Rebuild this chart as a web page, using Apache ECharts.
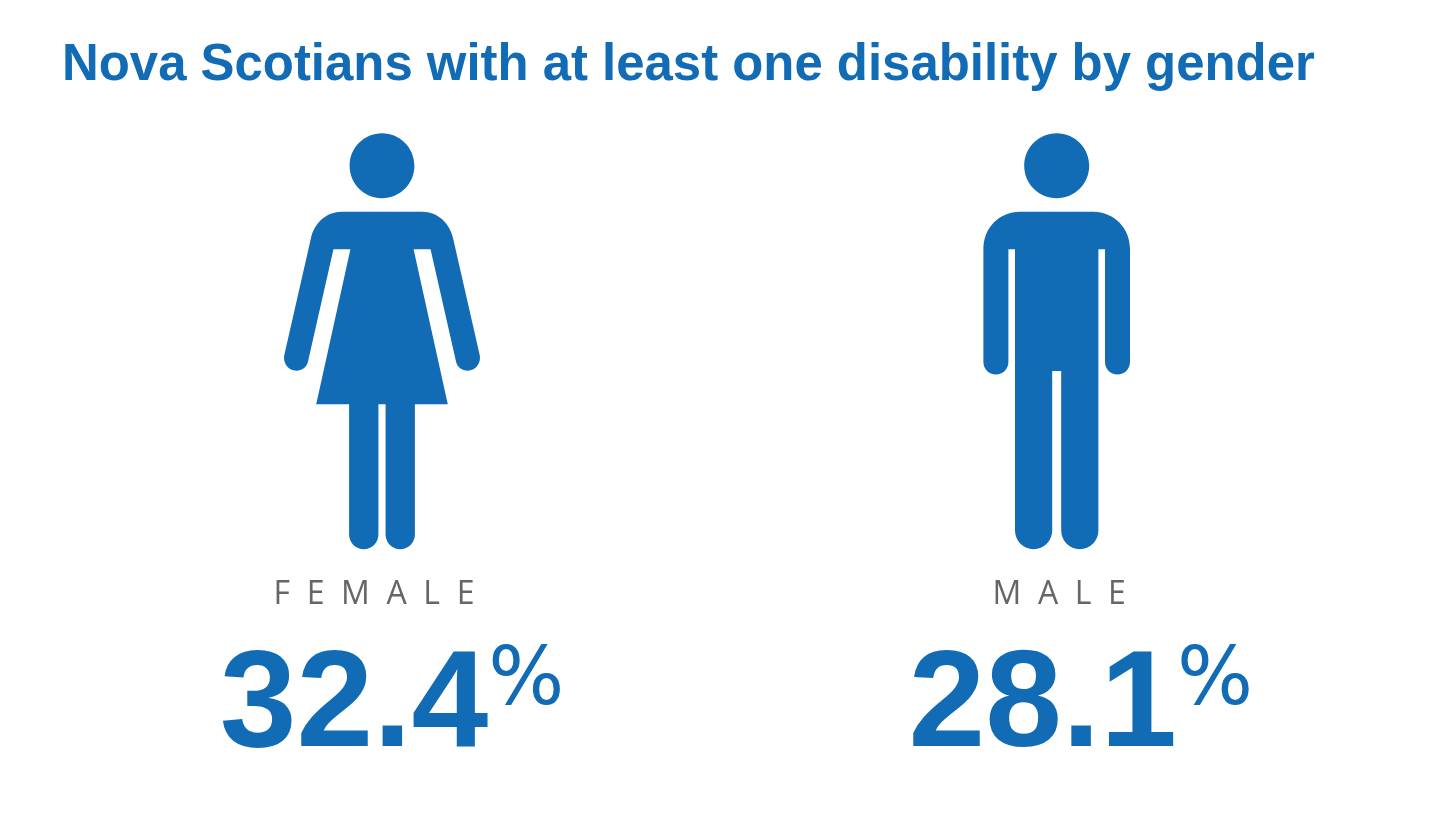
<!DOCTYPE html>
<html style="height: 100%">

<head>
    <meta charset="utf-8">
</head>

<body style="height: 100%; margin: 0; background: #fff">
    <div id="container" style="height: 100%"></div>

    <script src="https://cdn.jsdelivr.net/npm/echarts@6/dist/echarts.min.js"></script>

    <script type="text/javascript">
        var titleText = 'Nova Scotians with at least one disability by gender';
        var genders = ['FEMALE', 'MALE'];
        var disabilityRates = [32.4, 28.1];

        var blue = '#116bb5';

        // 人形图标
        var femaleIcon = 'path://M349.5 165.8C349.5 147.85 364.05 133.3 382 133.3C399.95 133.3 414.5 147.85 414.5 165.8C414.5 183.75 399.95 198.3 382 198.3C364.05 198.3 349.5 183.75 349.5 165.8Z' +
            'M341.7 211.7L422.3 211.7C438 211.7 450 223 453.3 238.3L480 355C481.5 361.65 477.5 368.8 470.9 370.3C464.3 371.8 457.8 368.35 456.3 361.7' +
            'L430.7 249.3L413.7 249.3L448 404.3L415 404.3L415 534.6C415 542.8 408.4 549.3 400.3 549.3C392.2 549.3 385.6 542.8 385.6 534.6L385.6 404.3' +
            'L378.4 404.3L378.4 534.6C378.4 542.8 371.8 549.3 363.7 549.3C355.6 549.3 349 542.8 349 534.6L349 404.3L316 404.3L350.3 249.3L333.3 249.3' +
            'L307.7 361.7C306.2 368.35 299.7 371.8 293.1 370.3C286.5 368.8 282.5 361.65 284 355L310.7 238.3C314 223 326 211.7 341.7 211.7Z';
        var maleIcon = 'path://M1024.2 165.8C1024.2 147.85 1038.75 133.3 1056.7 133.3C1074.65 133.3 1089.2 147.85 1089.2 165.8C1089.2 183.75 1074.65 198.3 1056.7 198.3C1038.75 198.3 1024.2 183.75 1024.2 165.8Z' +
            'M1020 211.7L1093.4 211.7C1114 211.7 1130 228 1130 249L1130 362C1130 369 1124.4 374.5 1117.5 374.5C1110.6 374.5 1105 369 1105 362' +
            'L1105 249.3L1098.4 249.3L1098.4 530.6C1098.4 540.9 1090 549.3 1079.8 549.3C1069.6 549.3 1061.2 540.9 1061.2 530.6L1061.2 371L1052.2 371' +
            'L1052.2 530.6C1052.2 540.9 1043.8 549.3 1033.6 549.3C1023.4 549.3 1015 540.9 1015 530.6L1015 249.3L1008.4 249.3L1008.4 362C1008.4 369 1002.8 374.5 995.9 374.5C989 374.5 983.4 369 983.4 362' +
            'L983.4 249C983.4 228 999 211.7 1020 211.7Z';
        var icons = [femaleIcon, maleIcon];
        var iconSizes = [[196, 416], [146.6, 416]];
        var labelOffsets = [[10, 0], [24, 0]];

        var myChart = echarts.init(document.getElementById('container'));

        var seriesData = genders.map(function (gender, i) {
            return {
                name: gender,
                value: [gender, 'share', disabilityRates[i]],
                symbol: icons[i],
                symbolSize: iconSizes[i],
                label: { offset: labelOffsets[i] }
            };
        });

        var genderText = {
            color: '#666',
            fontFamily: 'Open Sans',
            fontSize: 32
        };

        var option = {
            animation: false,
            backgroundColor: '#fff',
            title: {
                text: titleText,
                left: 62,
                top: 40,
                padding: 0,
                textStyle: {
                    color: blue,
                    fontFamily: 'Liberation Sans',
                    fontWeight: 'bold',
                    fontSize: 50.9
                }
            },
            grid: { left: 44.65, width: 1349.4, top: 133.3, bottom: 275.7 },
            xAxis: {
                type: 'category',
                data: genders,
                axisLine: { show: false },
                axisTick: { show: false },
                axisLabel: {
                    margin: 30,
                    formatter: function (value) {
                        return '{' + value + '|' + value.split('').join('  ') + '}';
                    },
                    rich: {
                        FEMALE: Object.assign({ padding: [0, 16, 0, 0] }, genderText),
                        MALE: Object.assign({ padding: [0, 0, 0, 5] }, genderText)
                    }
                }
            },
            yAxis: { type: 'category', data: ['share'], show: false },
            series: [{
                type: 'scatter',
                encode: { x: 0, y: 1 },
                data: seriesData,
                itemStyle: { color: blue, opacity: 1 },
                label: {
                    show: true,
                    position: 'bottom',
                    distance: 90,
                    formatter: function (p) {
                        return '{num|' + p.value[2].toFixed(1) + '}{pct|%}';
                    },
                    rich: {
                        num: {
                            color: blue,
                            fontFamily: 'Liberation Sans',
                            fontWeight: 'bold',
                            fontSize: 138,
                            lineHeight: 138
                        },
                        pct: {
                            color: blue,
                            fontFamily: 'DejaVu Sans',
                            fontSize: 80,
                            lineHeight: 80,
                            padding: [4, 0, 0, 0],
                            verticalAlign: 'top'
                        }
                    }
                }
            }]
        };

        myChart.setOption(option);
    </script>
</body>

</html>
